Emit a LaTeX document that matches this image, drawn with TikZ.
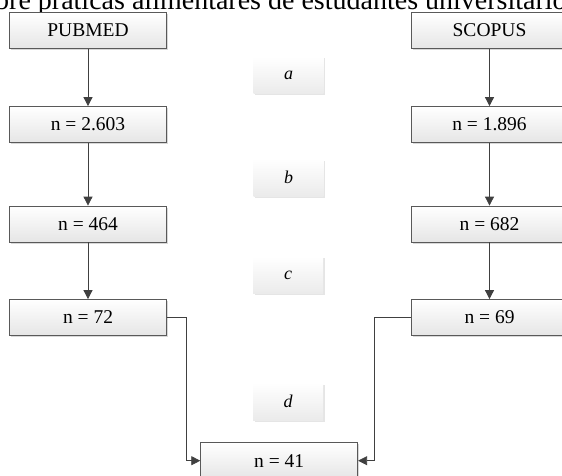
\documentclass[tikz,border=0pt]{standalone}
\usepackage{fontspec}
\setmainfont{Liberation Serif}
\usetikzlibrary{arrows.meta}
\usetikzlibrary{shadows}

\begin{document}
\begin{tikzpicture}[x=1pt,y=-1pt,
    dbbox/.style={draw=black!65, line width=0.8pt, top color=white, bottom color=black!10,
        minimum width=157pt, minimum height=36pt, inner sep=0pt,
        font=\fontsize{19.5}{21}\selectfont,
        drop shadow={shadow xshift=1.5pt, shadow yshift=-1.5pt, opacity=0.3}},
    stepbox/.style={top color=white, bottom color=black!8,
        minimum width=70pt, minimum height=37pt, inner sep=0pt,
        font=\fontsize{18}{20}\selectfont\itshape,
        drop shadow={shadow xshift=1.5pt, shadow yshift=-1.5pt, opacity=0.2}},
    flow/.style={draw=black!75, line width=0.8pt, -{Triangle[length=9pt,width=9pt]}}]
    \useasboundingbox (0,0) rectangle (562,476);
    \clip (0,0) rectangle (562,476);
    \fill[white] (0,0) rectangle (562,476);
    % caption cut at the top
    \node[anchor=base west, inner sep=0pt, font=\fontsize{28}{30}\selectfont] (caption) at (-5,9.5)
        {bre práticas alimentares de estudantes universitário};
    % left column
    \node[dbbox] (pubmed) at (88,30.5) {PUBMED};
    \node[dbbox] (pa) at (88,124.5) {n = 2.603};
    \node[dbbox] (pb) at (88,224) {n = 464};
    \node[dbbox] (pc) at (88,317.5) {n = 72};
    % right column
    \node[dbbox] (scopus) at (489.5,30.5) {SCOPUS};
    \node[dbbox] (sa) at (489.5,124.5) {n = 1.896};
    \node[dbbox] (sb) at (489.5,224) {n = 682};
    \node[dbbox] (sc) at (489.5,317.5) {n = 69};
    % result
    \node[dbbox] (res) at (279.2,460.7) {n = 41};
    % steps
    \node[stepbox] (sa1) at (288.5,75.5) {a};
    \node[stepbox] (sb1) at (288.5,177.5) {b};
    \node[stepbox] (sc1) at (288,275) {c};
    \node[stepbox] (sd1) at (288,401.5) {d};
    % arrows
    \draw[flow] (pubmed) -- (pa);
    \draw[flow] (pa) -- (pb);
    \draw[flow] (pb) -- (pc);
    \draw[flow] (scopus) -- (sa);
    \draw[flow] (sa) -- (sb);
    \draw[flow] (sb) -- (sc);
    \draw[flow] (pc.east) -- ++(19,0) |- (res.west);
    \draw[flow] (sc.west) -- ++(-36,0) |- (res.east);
\end{tikzpicture}
\end{document}
